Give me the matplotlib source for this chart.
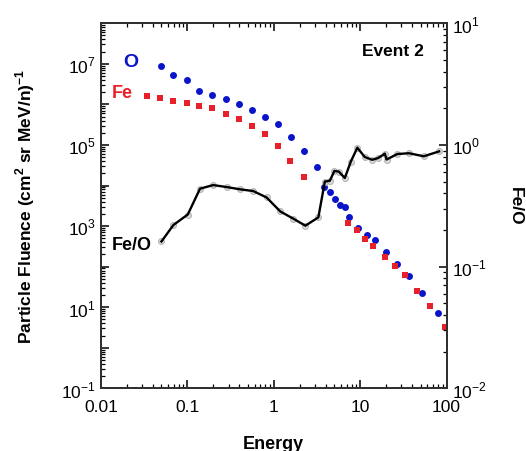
import numpy as np
import matplotlib
matplotlib.use("Agg")
import matplotlib.pyplot as plt
from matplotlib.ticker import LogLocator, FuncFormatter, NullFormatter

plt.rcParams['font.family'] = ['Liberation Sans', 'DejaVu Sans']
plt.rcParams['mathtext.fontset'] = 'custom'
plt.rcParams['mathtext.rm'] = 'Liberation Sans'
plt.rcParams['mathtext.bf'] = 'Liberation Sans:bold'

# O fluence
o_energy = [0.0495, 0.069, 0.098, 0.137, 0.194, 0.277, 0.392, 0.558, 0.79, 1.11, 1.58, 2.23, 3.15,
            3.80, 4.46, 5.09, 5.82, 6.64, 7.39, 9.39, 11.9, 14.8, 19.8, 26.5, 36.6, 51.7, 79.1]
o_fluence = [8.7e6, 5.4e6, 4.1e6, 2.18e6, 1.68e6, 1.39e6, 1.03e6, 7.3e5, 5.0e5, 3.2e5, 1.6e5, 7.2e4, 2.8e4,
             9.2e3, 6.9e3, 4.66e3, 3.3e3, 2.9e3, 1.65e3, 898, 604, 442, 234, 113, 57.8, 22, 7.1]

# Fe fluence
fe_energy = [0.0338, 0.048, 0.0685, 0.098, 0.137, 0.194, 0.277, 0.392, 0.558, 0.79, 1.11, 1.56, 2.23,
             7.2, 9.1, 11.5, 14.1, 19.6, 25.5, 32.8, 45.2, 64.7, 96.6]
fe_fluence = [1.64e6, 1.42e6, 1.24e6, 1.09e6, 9.3e5, 8.0e5, 5.9e5, 4.4e5, 3.0e5, 1.84e5, 9.3e4, 4.0e4, 1.63e4,
              1170, 800, 481, 329, 173, 105, 62, 25.5, 10.9, 3.34]

# Fe/O ratio
ratio_energy = [0.0501, 0.069, 0.101, 0.140, 0.199, 0.284, 0.406, 0.578, 0.826, 1.19, 1.68, 2.32, 3.28,
                3.90, 4.46, 5.02, 5.66, 6.64, 7.80, 9.27, 11.3, 13.8, 16.1, 19.3, 20.2, 26.9, 36.6, 54.5, 81.9]
ratio = [0.161, 0.220, 0.268, 0.437, 0.468, 0.451, 0.432, 0.418, 0.370, 0.284, 0.248, 0.217, 0.254,
         0.500, 0.508, 0.611, 0.604, 0.535, 0.731, 0.949, 0.796, 0.755, 0.780, 0.848, 0.759, 0.842, 0.855, 0.807, 0.885]

fig = plt.figure(figsize=(5.26, 4.52), dpi=100)
ax = fig.add_axes([0.192, 0.1387, 0.657, 0.8076])
ax2 = ax.twinx()

blue = '#0a14c8'
red = '#e8202a'

ax.plot(o_energy, o_fluence, 'o', color=blue, markersize=5, markeredgewidth=0, zorder=3)
ax.plot(fe_energy, fe_fluence, 's', color=red, markersize=4.6, markeredgewidth=0, zorder=3)

ax2.plot(ratio_energy, ratio, 'o', markersize=4.2, markerfacecolor='#dcdcdc',
         markeredgecolor='#b4b4b4', markeredgewidth=0.8, zorder=1)
ax2.plot(ratio_energy, ratio, '-', color='black', lw=1.7, zorder=2)

ax.set_xscale('log')
ax.set_yscale('log')
ax2.set_yscale('log')
ax.set_xlim(0.01, 100)
ax.set_ylim(0.1, 1e8)
ax2.set_ylim(0.01, 10)

def left_fmt(v, pos):
    e = int(round(np.log10(v)))
    if e % 2 != 0:
        return r'$10^{%d}$' % e
    return ''

ax.xaxis.set_major_locator(LogLocator(base=10, numticks=10))
ax.xaxis.set_minor_locator(LogLocator(base=10, subs=np.arange(2, 10), numticks=20))
ax.xaxis.set_major_formatter(FuncFormatter(lambda v, p: ('%g' % v)))
ax.xaxis.set_minor_formatter(NullFormatter())

ax.yaxis.set_major_locator(LogLocator(base=10, numticks=20))
ax.yaxis.set_minor_locator(LogLocator(base=10, subs=np.arange(2, 10), numticks=40))
ax.yaxis.set_major_formatter(FuncFormatter(left_fmt))
ax.yaxis.set_minor_formatter(NullFormatter())

ax2.yaxis.set_major_locator(LogLocator(base=10, numticks=10))
ax2.yaxis.set_minor_locator(LogLocator(base=10, subs=np.arange(2, 10), numticks=20))
ax2.yaxis.set_major_formatter(FuncFormatter(lambda v, p: r'$10^{%d}$' % int(round(np.log10(v)))))
ax2.yaxis.set_minor_formatter(NullFormatter())

for a in (ax, ax2):
    for s in a.spines.values():
        s.set_linewidth(1.4)
        s.set_color('#303030')

ax.tick_params(axis='x', which='both', direction='in', top=True, bottom=True, labelsize=12.5, pad=8)
ax.tick_params(axis='y', which='both', direction='in', left=True, right=False, labelsize=12.5, pad=4)
ax.tick_params(which='major', length=6, width=1.1)
ax.tick_params(which='minor', length=3, width=0.9)
ax2.tick_params(axis='y', which='both', direction='in', right=True, labelsize=12.5, pad=4)
ax2.tick_params(which='major', length=6, width=1.1)
ax2.tick_params(which='minor', length=3, width=0.9)

ax.set_xlabel('Energy', fontsize=13, fontweight='bold', va='center')
ax.xaxis.set_label_coords(0.5, (389.3 - 444) / 365.0)
ax.set_ylabel(r'Particle Fluence (cm$^\mathbf{2}$ sr MeV/n)$^\mathbf{-1}$', fontsize=12.5,
              fontweight='bold', va='center')
ax.yaxis.set_label_coords((25 - 101) / 345.7, 0.5)
ax2.set_ylabel('Fe/O', fontsize=12.5, fontweight='bold', rotation=270, va='center', ha='center')
ax2.yaxis.set_label_coords((516 - 101) / 345.7, (389.3 - 206.7) / 365.0)

fig.text(393 / 526, 1 - 51.7 / 452, 'Event 2', fontsize=12.5, fontweight='bold', ha='center', va='center')
fig.text(130.7 / 526, 1 - 62.7 / 452, 'O', fontsize=14, fontweight='bold', color=blue, ha='center', va='center')
fig.text(122.7 / 526, 1 - 93.3 / 452, 'Fe', fontsize=13, fontweight='bold', color=red, ha='center', va='center')
fig.text(131.7 / 526, 1 - 245.7 / 452, 'Fe/O', fontsize=13, fontweight='bold', color='black', ha='center', va='center')

fig.savefig('out.png', dpi=100)
